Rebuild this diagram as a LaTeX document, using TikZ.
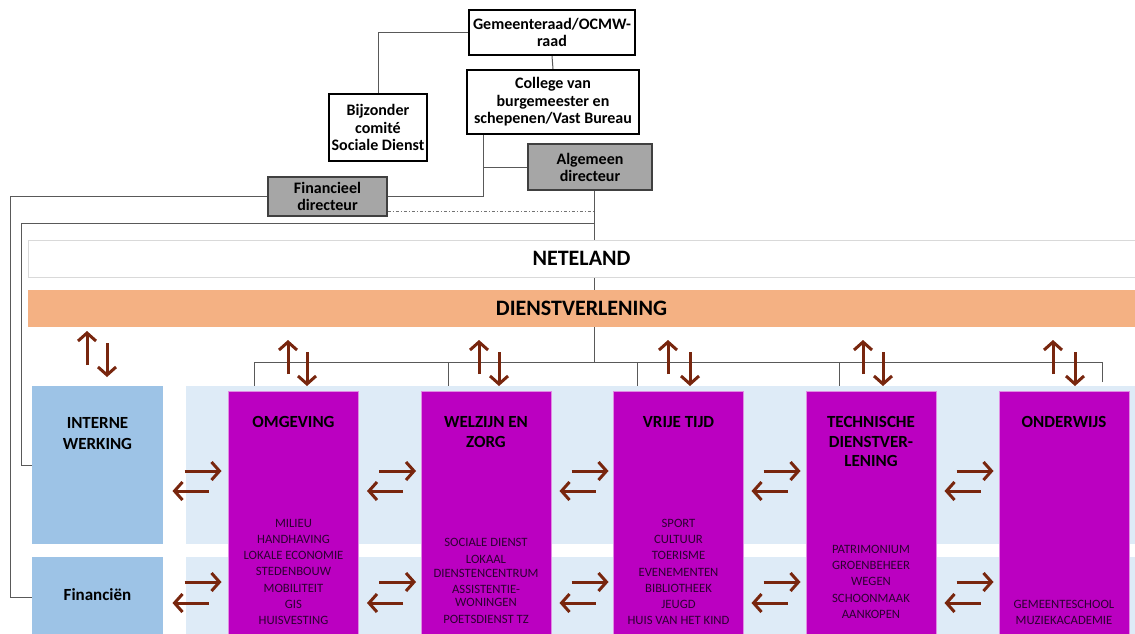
\documentclass[tikz,border=0pt]{standalone}
\usepackage{fontspec}
\setmainfont{Carlito}
\usetikzlibrary{arrows.meta,calc}
\definecolor{purp}{RGB}{187,0,193}
\definecolor{lband}{RGB}{222,235,247}
\definecolor{iblue}{RGB}{157,195,230}
\definecolor{orng}{RGB}{244,177,131}
\definecolor{gbox}{RGB}{166,166,166}
\definecolor{brn}{RGB}{120,38,14}
\definecolor{itemc}{RGB}{45,0,50}
\begin{document}
\begin{tikzpicture}[x=1pt,y=-1pt,
  topbox/.style={draw=black, line width=2.2pt, fill=white, align=center, inner sep=0pt,
    font=\bfseries\fontsize{16}{17.5}\selectfont},
  graybox/.style={draw=black!75, line width=1.6pt, fill=gbox, align=center, inner sep=0pt,
    font=\bfseries\fontsize{16}{17}\selectfont},
  conn/.style={draw=black!65, line width=1pt},
  band/.style={minimum width=1107, minimum height=37, inner sep=0pt,
    font=\bfseries\fontsize{22}{24}\selectfont},
  bluebox/.style={fill=iblue, inner sep=0pt, minimum width=131, anchor=north west},
  pbox/.style={fill=purp, draw=purp!45!white, line width=0.8pt, minimum width=130,
    minimum height=250, anchor=north, inner sep=0pt},
  ttl/.style={anchor=north, align=center, inner sep=0pt, text=black,
    font=\bfseries\fontsize{17}{20}\selectfont},
  items/.style={anchor=north, align=center, inner sep=0pt, text=itemc,
    font=\fontsize{12.7}{16.2}\selectfont},
  barr/.style={draw=brn, line width=3pt, -{Straight Barb[length=8pt,width=18pt]}}
]
\useasboundingbox (0,0) rectangle (1135,634);
\clip (0,0) rectangle (1135,634);
\fill[white] (0,0) rectangle (1135,634);

% top boxes
\node[topbox, minimum width=166, minimum height=45] (gem) at (552,32.5) {Gemeenteraad/OCMW-\\raad};
\node[topbox, minimum width=172, minimum height=64] (col) at (553,102) {College van\\burgemeester en\\schepenen/Vast Bureau};
\node[topbox, minimum width=98, minimum height=67] (bij) at (378,127.5) {Bijzonder\\comité\\Sociale Dienst};
\node[graybox, minimum width=124, minimum height=46] (alg) at (590,167) {Algemeen\\directeur};
\node[graybox, minimum width=119, minimum height=39] (fin) at (327.5,196.5) {Financieel\\directeur};

% coordinates
\coordinate (hub) at (594,362);
\coordinate (j2) at (594,223);
\coordinate (dd) at (594,211);
\coordinate (t1) at (254,387);
\coordinate (t2) at (448,387);
\coordinate (t3) at (637,387);
\coordinate (t4) at (839,387);
\coordinate (t5) at (1102,382);

% connectors (behind bands)
\draw[conn] (gem.west) -| (bij.north);
\draw[conn] (gem.south) -- (col.north);
\draw[conn] ($(col.south west)+(18,0)$) |- (alg.west);
\draw[conn] ($(col.south west)+(18,0)$) |- (fin.east);
\draw[conn] ($(alg.south)+(4,0)$) -- (hub);
\draw[draw=black!55, line width=0.8pt, dash pattern=on 3pt off 2pt on 1pt off 2pt] (fin.east |- dd) -- (dd);
\foreach \t in {t1,t2,t3,t4,t5} \draw[conn] (\t) |- (hub);

% bands
\node[band, draw=black!15, line width=1pt, fill=white] (net) at (581.5,258.5) {NETELAND};
\node[band, fill=orng] (dv) at (581.5,308.5) {DIENSTVERLENING};

% light blue background bands
\fill[lband] (186,386) rectangle (1140,544);
\fill[lband] (186,557) rectangle (1140,640);

% left blue boxes
\node[bluebox, minimum height=158] (iw) at (32,386) {};
\node[bluebox, minimum height=80] (fz) at (32,557) {};
\node[ttl] (iwt) at (97.5,417.6) {INTERNE\\[1pt]WERKING};
\node[ttl, anchor=center] (fzt) at (97.5,595) {Financiën};

\draw[conn] (j2) -- (21,223) |- (iw.west);
\draw[conn] (fin.west) -- (10,196.5) |- (fz.west);

% purple boxes
\node[pbox] (omg) at (293.5,391) {};
\node[pbox] (wel) at (486,391) {};
\node[pbox] (vri) at (678.5,391) {};
\node[pbox] (tec) at (871,391) {};
\node[pbox] (ond) at (1064,391) {};

\node[ttl] (omgt) at (293.5,416.6) {OMGEVING};
\node[ttl] (welt) at (486,416.6) {WELZIJN EN\\ZORG};
\node[ttl] (vrit) at (678.5,416.6) {VRIJE TIJD};
\node[ttl] (tect) at (871,416.6) {TECHNISCHE\\DIENSTVER-\\[-1pt]LENING};
\node[ttl] (ondt) at (1064,416.6) {ONDERWIJS};

\node[items] (omgi) at (293.5,519) {MILIEU\\HANDHAVING\\LOKALE ECONOMIE\\STEDENBOUW\\MOBILITEIT\\GIS\\HUISVESTING};
\node[items] (weli) at (486,538) {SOCIALE DIENST\\[0.8pt]LOKAAL\\[-2.2pt]DIENSTENCENTRUM\\[-0.2pt]ASSISTENTIE-\\[-3.2pt]WONINGEN\\[0.8pt]POETSDIENST TZ};
\node[items] (vrii) at (678.5,519) {SPORT\\CULTUUR\\TOERISME\\EVENEMENTEN\\BIBLIOTHEEK\\JEUGD\\HUIS VAN HET KIND};
\node[items] (teci) at (871,545) {PATRIMONIUM\\GROENBEHEER\\WEGEN\\SCHOONMAAK\\AANKOPEN};
\node[items] (ondi) at (1064,600) {GEMEENTESCHOOL\\MUZIEKACADEMIE};

% vertical arrow pairs
\draw[barr] (87,365) -- (87,331);
\draw[barr] (107,343) -- (107,377);
\foreach \u/\d in {288/307, 479/499, 668/690, 863/883, 1053/1075} {
  \draw[barr] (\u,374) -- (\u,340);
  \draw[barr] (\d,352) -- (\d,386);
}

% horizontal arrow pairs
\foreach \g in {195.5, 390, 582.5, 774.5, 967.5} {
  \draw[barr] (\g-11,471) -- (\g+26,471);
  \draw[barr] (\g+13,491) -- (\g-23,491);
  \draw[barr] (\g-11,582) -- (\g+26,582);
  \draw[barr] (\g+13,603) -- (\g-23,603);
}
\end{tikzpicture}
\end{document}
